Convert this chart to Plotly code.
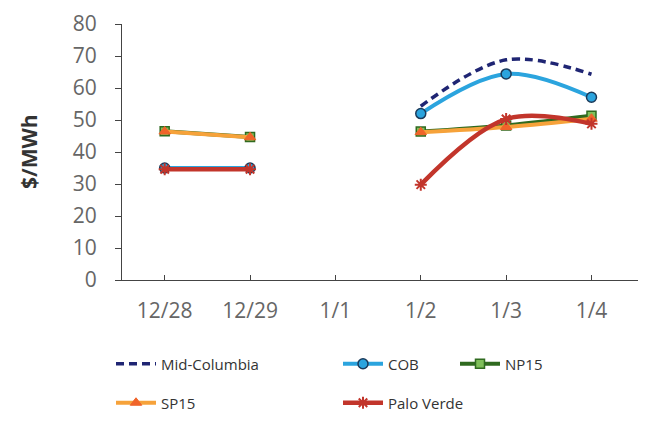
import plotly.graph_objects as go

dates = ["12/28", "12/29", "1/1", "1/2", "1/3", "1/4"]
mid_columbia = [35.0, 35.0, None, 54.3, 68.8, 64.3]
cob = [35.0, 35.0, None, 52.0, 64.4, 57.1]
np15 = [46.5, 44.7, None, 46.4, 48.3, 51.3]
sp15 = [46.4, 44.6, None, 46.2, 47.8, 50.4]
palo_verde = [34.6, 34.6, None, 29.8, 50.3, 48.8]

FONT = "Open Sans"
OFF = 7  # page body offset
fig = go.Figure()

fig.add_trace(go.Scatter(
    x=dates, y=mid_columbia, name="Mid-Columbia", mode="lines",
    line=dict(color="#1f2573", width=3.5, dash="8px,5px", shape="spline"),
    connectgaps=False, legend="legend"))
fig.add_trace(go.Scatter(
    x=dates, y=cob, name="COB", mode="lines+markers",
    line=dict(color="#2ba4de", width=4, shape="spline"),
    marker=dict(symbol="circle", size=10, color="#2ba4de",
                line=dict(color="#1b3a5a", width=1.5)),
    connectgaps=False, legend="legend"))
fig.add_trace(go.Scatter(
    x=dates, y=np15, name="NP15", mode="lines+markers",
    line=dict(color="#2f6a1f", width=4, shape="spline"),
    marker=dict(symbol="square", size=9, color="#7fbf5a",
                line=dict(color="#2f6a1f", width=1.5)),
    connectgaps=False, legend="legend3"))
fig.add_trace(go.Scatter(
    x=dates, y=sp15, name="SP15", mode="lines+markers",
    line=dict(color="#f6a23a", width=4, shape="spline"),
    marker=dict(symbol="triangle-up", size=10, color="#f0642a",
                line=dict(color="#f0642a", width=1)),
    connectgaps=False, legend="legend2"))
fig.add_trace(go.Scatter(
    x=dates, y=palo_verde, name="Palo Verde", mode="lines+markers",
    line=dict(color="#c2352b", width=4.5, shape="spline"),
    marker=dict(symbol="asterisk-open", size=10, color="#c2352b",
                line=dict(color="#c2352b", width=2)),
    connectgaps=False, legend="legend2"))

W, H = 646, 427

def leg(x, y):
    return dict(orientation="h", xref="container", yref="container",
                x=(x-OFF)/W, y=1-(y-OFF)/H, xanchor="left", yanchor="middle",
                entrywidth=172, entrywidthmode="pixels",
                font=dict(family=FONT, size=15, color="#333333"),
                bgcolor="rgba(0,0,0,0)", itemwidth=40)

L = 121 - OFF
T = 23 - OFF
R = W - (640 - OFF)
B = H - (279 - OFF)
PW = W - L - R

fig.update_layout(
    width=W, height=H,
    margin=dict(l=L, r=R, t=T, b=B, autoexpand=False),
    paper_bgcolor="white", plot_bgcolor="white",
    font=dict(family=FONT, color="#333333"),
    showlegend=True,
    legend=leg(110, 363),
    legend2=leg(110, 402),
    legend3=leg(454, 363),
    xaxis=dict(type="category", categoryorder="array", categoryarray=dates,
               range=[-0.5, 5.58], showgrid=False, zeroline=False,
               showline=True, linecolor="#444444", linewidth=1.2,
               ticks="inside", ticklen=5, tickcolor="#444444",
               tickfont=dict(family=FONT, size=21, color="#666666"),
               ticklabelstandoff=12, ticklabeloverflow="allow"),
    yaxis=dict(range=[0, 80], dtick=10, showgrid=False, zeroline=False,
               showline=True, linecolor="#444444", linewidth=1.2,
               ticks="outside", ticklen=6, tickcolor="#444444",
               tickfont=dict(family=FONT, size=21, color="#666666"),
               ticklabelstandoff=14, ticklabeloverflow="allow"),
    annotations=[dict(text="<b>$/MWh</b>", textangle=-90,
                      xref="paper", yref="paper", x=-(121-28)/PW, y=0.5,
                      xanchor="center", yanchor="middle", showarrow=False,
                      font=dict(family=FONT, size=21, color="#333333"))],
)

fig.write_html("out.html")
